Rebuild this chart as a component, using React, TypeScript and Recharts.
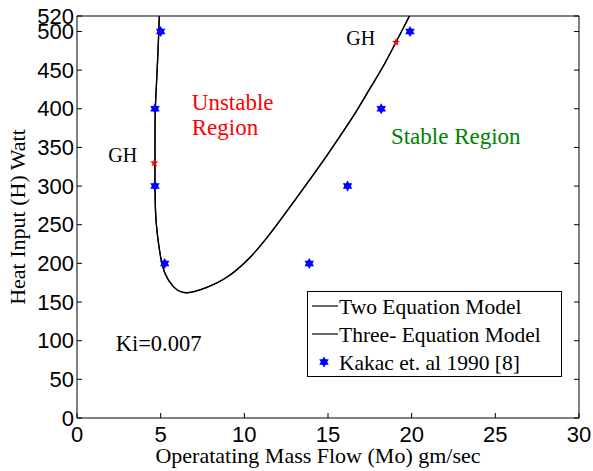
import { ComposedChart, Line, Scatter, XAxis, YAxis, ReferenceDot } from 'recharts'

// axis ticks
const xTicks = [0, 5, 10, 15, 20, 25, 30]
const yTicks = [0, 50, 100, 150, 200, 250, 300, 350, 400, 450, 500, 520]

// stability boundary (Mo gm/sec, H watt) - both models lie on the same line here
const boundaryMass = [4.92, 4.86, 4.77, 4.68, 4.66, 4.66, 4.69, 4.8, 5.0, 5.26, 5.76, 6.56, 7.76, 8.95, 10.35, 11.7, 13.1, 14.5, 15.7, 16.7, 17.5, 18.3, 19.06, 19.87]
const boundaryHeat = [520, 484, 441, 398, 355, 312, 269, 238, 208, 187, 170, 162, 169, 182, 208, 243, 284, 326, 364, 397, 426, 455, 486, 520]

// Kakac et. al 1990 experimental points
const kakacMass = [5.0, 4.66, 4.66, 5.24, 19.9, 18.18, 16.17, 13.88]
const kakacHeat = [500, 400, 300, 200, 500, 400, 300, 200]

// GH points (red)
const ghMass = [4.62, 19.06]
const ghHeat = [330, 486]

// text notes placed in data coordinates
const noteText = ['GH', 'GH', 'Unstable', 'Region', 'Stable Region', 'Ki=0.007']
const noteMass = [1.87, 16.09, 6.86, 6.86, 18.76, 2.31]
const noteHeat = [331, 483, 398, 366, 355, 87]
const noteColor = ['#000000', '#000000', '#ff0000', '#ff0000', '#008000', '#000000']
const noteSize = [20, 20, 23, 23, 23, 22.5]

const toRows = (ms: number[], hs: number[]) => ms.map((m, i) => ({ m, h: hs[i] }))
const twoEqData = toRows(boundaryMass, boundaryHeat)
const threeEqData = toRows(boundaryMass, boundaryHeat)
const kakacData = toRows(kakacMass, kakacHeat)
const ghData = toRows(ghMass, ghHeat)

const SERIF = '"Liberation Serif", "Times New Roman", Times, serif'
const SANS = '"Liberation Sans", Arial, Helvetica, sans-serif'
const tickFont = { fontFamily: SANS, fontSize: 22, fill: '#000' }

function LeftTick({ x, y, payload }: any) {
  return (
    <g>
      <line x1={x} y1={y} x2={x + 5} y2={y} stroke="#000" />
      <text x={x - 3} y={y} dy={7.5} textAnchor="end" {...tickFont}>{payload.value}</text>
    </g>
  )
}

function BottomTick({ x, y, payload }: any) {
  return (
    <g>
      <line x1={x} y1={y} x2={x} y2={y - 5} stroke="#000" />
      <text x={x} y={y + 24} textAnchor="middle" {...tickFont}>{payload.value}</text>
    </g>
  )
}

function TopTick({ x, y }: any) {
  return <line x1={x} y1={y} x2={x} y2={y + 5} stroke="#000" />
}

function RightTick({ x, y }: any) {
  return <line x1={x} y1={y} x2={x - 5} y2={y} stroke="#000" />
}

function Hexagram({ cx, cy }: any) {
  const r = 5.5
  const tri = (rot: number) =>
    [0, 1, 2]
      .map(i => {
        const a = rot + (i * 2 * Math.PI) / 3
        return `${cx + r * Math.sin(a)},${cy - r * Math.cos(a)}`
      })
      .join(' ')
  return (
    <g>
      <polygon points={tri(0)} fill="#0000ff" />
      <polygon points={tri(Math.PI)} fill="#0000ff" />
    </g>
  )
}

function SmallStar({ cx, cy }: any) {
  const pts: string[] = []
  for (let i = 0; i < 10; i++) {
    const r = i % 2 ? 1.8 : 4.3
    const a = (i * Math.PI) / 5
    pts.push(`${cx + r * Math.sin(a)},${cy - r * Math.cos(a)}`)
  }
  return <polygon points={pts.join(' ')} fill="#ff0000" />
}

function XTitle(props: any) {
  const vb = props.viewBox ?? { x: 77, y: 418, width: 502, height: 53 }
  return (
    <text x={vb.x + vb.width / 2 - 10} y={vb.y + 45} textAnchor="middle" fontFamily={SERIF} fontSize={22} fill="#000">
      Operatating Mass Flow (Mo) gm/sec
    </text>
  )
}

function YTitle(props: any) {
  const vb = props.viewBox ?? { x: 0, y: 16, width: 77, height: 402 }
  const tx = vb.x + 25
  const ty = vb.y + vb.height / 2
  return (
    <text x={tx} y={ty} transform={`rotate(-90, ${tx}, ${ty})`} textAnchor="middle" fontFamily={SERIF} fontSize={22} fill="#000">
      Heat Input (H) Watt
    </text>
  )
}

function LegendBox() {
  const text = { fontFamily: SERIF, fontSize: 21.5, fill: '#000' }
  return (
    <svg width={255} height={86} style={{ display: 'block' }}>
      <rect x={0.5} y={0.5} width={254} height={85} fill="#fff" stroke="#000" />
      <line x1={5} y1={15} x2={31} y2={15} stroke="#000" strokeWidth={1.2} />
      <text x={32} y={23} {...text}>Two Equation Model</text>
      <line x1={5} y1={43} x2={31} y2={43} stroke="#000" strokeWidth={1.2} />
      <text x={32} y={51} {...text}>Three- Equation Model</text>
      <Hexagram cx={17} cy={71} />
      <text x={32} y={79} {...text}>Kakac et. al 1990 [8]</text>
    </svg>
  )
}

export default function App() {
  return (
    <div style={{ position: 'absolute', left: 0, top: 0, width: 593, height: 471, background: '#fff' }}>
      <ComposedChart width={593} height={471} margin={{ top: 0, right: 0, bottom: 0, left: 0 }}>
        <XAxis
          xAxisId={0}
          dataKey="m"
          type="number"
          domain={[0, 30]}
          ticks={xTicks}
          allowDataOverflow
          height={53}
          tickSize={0}
          tickMargin={0}
          tickLine={false}
          tick={<BottomTick />}
          axisLine={{ stroke: '#000' }}
          label={XTitle}
        />
        <XAxis
          xAxisId="top"
          orientation="top"
          type="number"
          domain={[0, 30]}
          ticks={xTicks}
          allowDataOverflow
          height={16}
          tickSize={0}
          tickMargin={0}
          tickLine={false}
          tick={<TopTick />}
          axisLine={{ stroke: '#000' }}
        />
        <YAxis
          yAxisId={0}
          dataKey="h"
          type="number"
          domain={[0, 520]}
          ticks={yTicks}
          interval={0}
          allowDataOverflow
          width={77}
          tickSize={0}
          tickMargin={0}
          tickLine={false}
          tick={<LeftTick />}
          axisLine={{ stroke: '#000' }}
          label={YTitle}
        />
        <YAxis
          yAxisId="right"
          orientation="right"
          type="number"
          domain={[0, 520]}
          ticks={yTicks}
          interval={0}
          allowDataOverflow
          width={14}
          tickSize={0}
          tickMargin={0}
          tickLine={false}
          tick={<RightTick />}
          axisLine={{ stroke: '#000' }}
        />
        <Line
          data={twoEqData}
          dataKey="h"
          name="Two Equation Model"
          type="natural"
          stroke="#000"
          strokeWidth={1.3}
          dot={false}
          isAnimationActive={false}
        />
        <Line
          data={threeEqData}
          dataKey="h"
          name="Three- Equation Model"
          type="natural"
          stroke="#000"
          strokeWidth={1.3}
          dot={false}
          isAnimationActive={false}
        />
        <Scatter data={kakacData} dataKey="h" name="Kakac et. al 1990 [8]" shape={<Hexagram />} isAnimationActive={false} />
        <Scatter data={ghData} dataKey="h" name="GH" shape={<SmallStar />} isAnimationActive={false} />
        {noteText.map((t, i) => (
          <ReferenceDot
            key={i}
            x={noteMass[i]}
            y={noteHeat[i]}
            r={0}
            fill="none"
            stroke="none"
            label={(p: any) => (
              <text
                x={p.viewBox?.x ?? 0}
                y={p.viewBox?.y ?? 0}
                fontFamily={SERIF}
                fontSize={noteSize[i]}
                fill={noteColor[i]}
              >
                {t}
              </text>
            )}
          />
        ))}
      </ComposedChart>
      <div style={{ position: 'absolute', left: 307, top: 291 }}>
        <LegendBox />
      </div>
    </div>
  )
}
